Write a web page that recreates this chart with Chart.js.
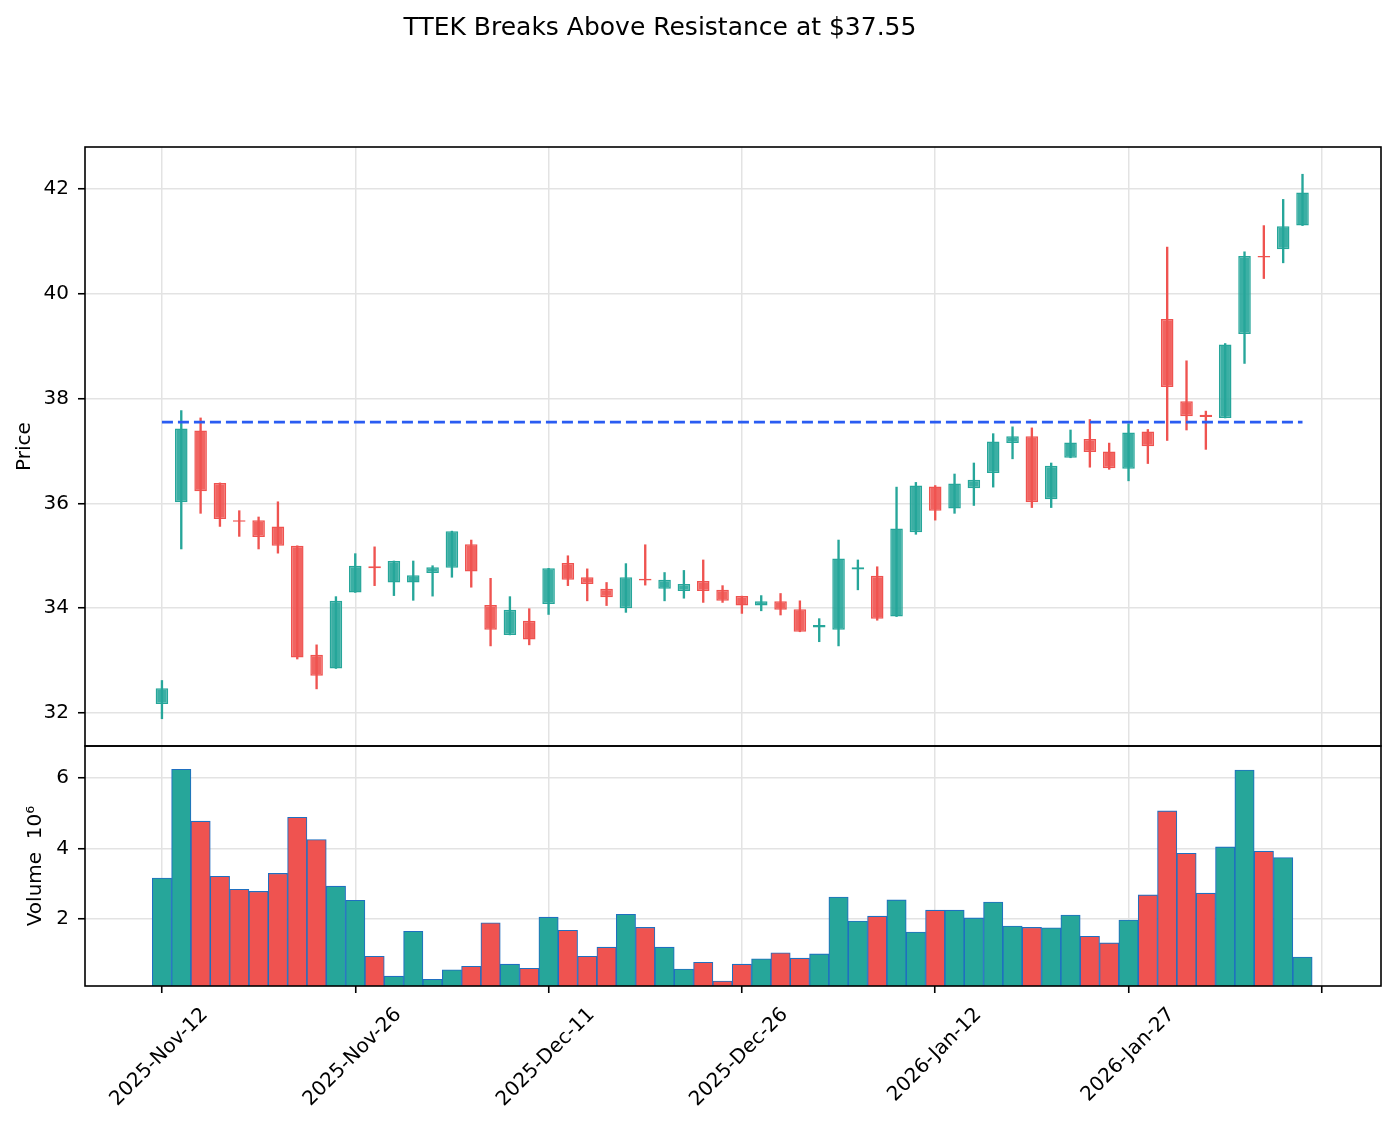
<!DOCTYPE html>
<html>
<head>
<meta charset="utf-8">
<script src="https://cdn.jsdelivr.net/npm/chart.js@4.4.1/dist/chart.umd.min.js"></script>
<style>
  html, body { margin: 0; padding: 0; background: #fff; }
  #wrap { width: 1395px; height: 1126px; }
</style>
</head>
<body>
<div id="wrap"><canvas id="graph" width="1395" height="1126"></canvas></div>
<script>
// daily OHLC, one entry per trading day (index 0 = 2025-Nov-12)
const opens  = [32.17, 36.02, 37.39, 36.39, 35.68, 35.68, 35.56, 35.19, 33.11, 32.85,
                34.30, 34.80, 34.49, 34.49, 34.67, 34.77, 35.22, 34.06, 33.49, 33.76,
                34.08, 34.86, 34.59, 34.37, 34.00, 34.56, 34.37, 34.33, 34.52, 34.35,
                34.23, 34.05, 34.13, 33.98, 33.63, 33.59, 34.74, 34.62, 33.84, 35.45,
                36.32, 35.90, 36.29, 36.58, 37.15, 37.28, 36.08, 36.87, 37.23, 36.99,
                36.66, 37.37, 39.52, 37.95, 37.69, 37.63, 39.23, 40.72, 40.85, 41.30];
const highs  = [32.62, 37.77, 37.63, 36.39, 35.86, 35.74, 36.03, 35.19, 33.30, 34.22,
                35.04, 35.17, 34.90, 34.90, 34.81, 35.47, 35.30, 34.57, 34.22, 33.99,
                34.76, 35.00, 34.75, 34.49, 34.85, 35.21, 34.68, 34.72, 34.92, 34.43,
                34.23, 34.24, 34.28, 34.14, 33.80, 35.30, 34.92, 34.79, 36.31, 36.40,
                36.34, 36.56, 36.77, 37.33, 37.46, 37.44, 36.77, 37.40, 37.60, 37.15,
                37.52, 37.41, 40.89, 38.72, 37.76, 39.05, 40.80, 41.30, 41.80, 42.28];
const lows   = [31.89, 35.13, 35.81, 35.56, 35.37, 35.13, 35.05, 33.03, 32.46, 32.85,
                34.30, 34.43, 34.24, 34.15, 34.23, 34.59, 34.40, 33.28, 33.49, 33.30,
                33.88, 34.43, 34.14, 34.05, 33.92, 34.44, 34.14, 34.19, 34.11, 34.11,
                33.90, 33.95, 33.87, 33.55, 33.36, 33.28, 34.35, 33.77, 33.84, 35.41,
                35.68, 35.81, 35.96, 36.31, 36.85, 35.92, 35.92, 36.87, 36.69, 36.65,
                36.43, 36.76, 37.20, 37.40, 37.03, 37.63, 38.67, 40.29, 40.59, 41.30];
const closes = [32.47, 37.43, 36.23, 35.70, 35.65, 35.36, 35.19, 33.06, 32.71, 34.14,
                34.81, 34.76, 34.90, 34.63, 34.78, 35.47, 34.70, 33.59, 33.97, 33.40,
                34.76, 34.54, 34.46, 34.21, 34.59, 34.53, 34.54, 34.46, 34.33, 34.14,
                34.05, 34.13, 33.97, 33.55, 33.68, 34.95, 34.78, 33.80, 35.52, 36.34,
                35.86, 36.38, 36.45, 37.18, 37.28, 36.02, 36.72, 37.16, 36.98, 36.67,
                37.35, 37.09, 38.22, 37.66, 37.65, 39.03, 40.72, 40.69, 41.29, 41.93];
// volume in millions of shares
const volumes = [3.16, 6.24, 4.77, 3.21, 2.84, 2.78, 3.29, 4.88, 4.25, 2.93,
                 2.53, 0.94, 0.38, 1.65, 0.29, 0.56, 0.66, 1.89, 0.72, 0.60,
                 2.05, 1.68, 0.94, 1.20, 2.13, 1.76, 1.20, 0.58, 0.77, 0.24,
                 0.72, 0.87, 1.04, 0.89, 1.01, 2.62, 1.94, 2.08, 2.54, 1.63,
                 2.25, 2.25, 2.03, 2.48, 1.80, 1.76, 1.75, 2.11, 1.51, 1.32,
                 1.97, 2.68, 5.06, 3.86, 2.73, 4.04, 6.22, 3.92, 3.74, 0.92];

const resistance = 37.55;
const xTickIndex  = [0, 10, 20, 30, 40, 50, 60];
const xTickLabels = ['2025-Nov-12', '2025-Nov-26', '2025-Dec-11', '2025-Dec-26', '2026-Jan-12', '2026-Jan-27', ''];
const priceTicks  = [32, 34, 36, 38, 40, 42];
const volumeTicks = [2, 4, 6];
const chartTitle  = 'TTEK Breaks Above Resistance at $37.55';

const upColor = '#26a69a', downColor = '#ef5350';
const upFill = 'rgba(38,166,154,0.9)', downFill = 'rgba(239,83,80,0.9)';
const isUp = closes.map((c, i) => c >= opens[i]);
const idx = closes.map((c, i) => i);

const FONT = 'DejaVu Sans';

const panels = {
    id: 'panels',
    afterDraw(chart) {
        const {ctx, chartArea} = chart;
        const yp = chart.scales.y, yv = chart.scales.yVol;
        ctx.save();
        ctx.strokeStyle = '#000';
        ctx.lineWidth = 1.6;
        ctx.strokeRect(chartArea.left, yp.top, chartArea.right - chartArea.left, yp.bottom - yp.top);
        ctx.strokeRect(chartArea.left, yv.top, chartArea.right - chartArea.left, yv.bottom - yv.top);
        ctx.fillStyle = '#000';
        ctx.font = '25px "' + FONT + '"';
        ctx.textAlign = 'center';
        ctx.textBaseline = 'alphabetic';
        ctx.fillText(chartTitle, 660, 35);
        ctx.restore();
    }
};

const tickFont = {family: FONT, size: 20};
const gridStyle = {color: '#e3e3e3', lineWidth: 1.5, tickColor: '#000', tickLength: 7, tickWidth: 1.6};

const config = {
    type: 'bar',
    data: {
        datasets: [
            {
                type: 'line',
                data: [{x: 0, y: resistance}, {x: closes.length - 1, y: resistance}],
                borderColor: '#2a5cf2',
                borderWidth: 2.8,
                borderDash: [11, 5],
                pointRadius: 0,
                yAxisID: 'y',
                order: 0
            },
            {
                data: idx.map(i => ({x: i, y: [opens[i], closes[i]]})),
                backgroundColor: isUp.map(u => u ? upFill : downFill),
                borderColor: isUp.map(u => u ? upColor : downColor),
                borderWidth: 1.5,
                borderSkipped: false,
                grouped: false,
                barPercentage: 0.65,
                categoryPercentage: 1,
                yAxisID: 'y',
                order: 1
            },
            {
                data: idx.map(i => ({x: i, y: [lows[i], highs[i]]})),
                backgroundColor: isUp.map(u => u ? upColor : downColor),
                borderWidth: 0,
                grouped: false,
                barThickness: 1.7,
                yAxisID: 'y',
                order: 2
            },
            {
                data: idx.map(i => ({x: i, y: volumes[i]})),
                backgroundColor: isUp.map(u => u ? upColor : downColor),
                borderColor: '#1f6fc0',
                borderWidth: 1.1,
                borderSkipped: false,
                grouped: false,
                barPercentage: 1,
                categoryPercentage: 1,
                yAxisID: 'yVol',
                order: 3
            }
        ]
    },
    options: {
        responsive: false,
        animation: false,
        devicePixelRatio: 1,
        layout: {padding: {top: 147, right: 14, left: 0, bottom: 0}},
        plugins: {legend: {display: false}, tooltip: {enabled: false}},
        scales: {
            x: {
                type: 'linear',
                offset: false,
                min: -3.98,
                max: 63.06,
                afterBuildTicks: (scale) => { scale.ticks = xTickIndex.map(v => ({value: v})); },
                afterFit: (scale) => { scale.height = 140; },
                grid: Object.assign({offset: false}, gridStyle),
                border: {display: false},
                ticks: {
                    autoSkip: false,
                    minRotation: 45,
                    maxRotation: 45,
                    labelOffset: 43,
                    padding: 10,
                    color: '#000',
                    font: tickFont,
                    callback: (v) => xTickLabels[xTickIndex.indexOf(v)] ?? ''
                }
            },
            yVol: {
                type: 'linear',
                position: 'left',
                stack: 'panels',
                stackWeight: 240,
                min: 0.1,
                max: 6.9,
                afterBuildTicks: (scale) => { scale.ticks = volumeTicks.map(v => ({value: v})); },
                afterFit: (scale) => { scale.width = 85; },
                grid: gridStyle,
                border: {display: false},
                ticks: {color: '#000', font: tickFont, padding: 9},
                title: {display: true, text: 'Volume  10\u2076', color: '#000', font: tickFont, padding: {top: 24, bottom: 0}}
            },
            y: {
                type: 'linear',
                position: 'left',
                stack: 'panels',
                stackWeight: 599,
                min: 31.37,
                max: 42.80,
                afterBuildTicks: (scale) => { scale.ticks = priceTicks.map(v => ({value: v})); },
                afterFit: (scale) => { scale.width = 85; },
                grid: gridStyle,
                border: {display: false},
                ticks: {color: '#000', font: tickFont, padding: 9},
                title: {display: true, text: 'Price', color: '#000', font: tickFont, padding: {top: 13, bottom: 0}}
            }
        }
    },
    plugins: [panels]
};

const graph = document.querySelector('#graph');
new Chart(graph, config);
</script>
</body>
</html>
